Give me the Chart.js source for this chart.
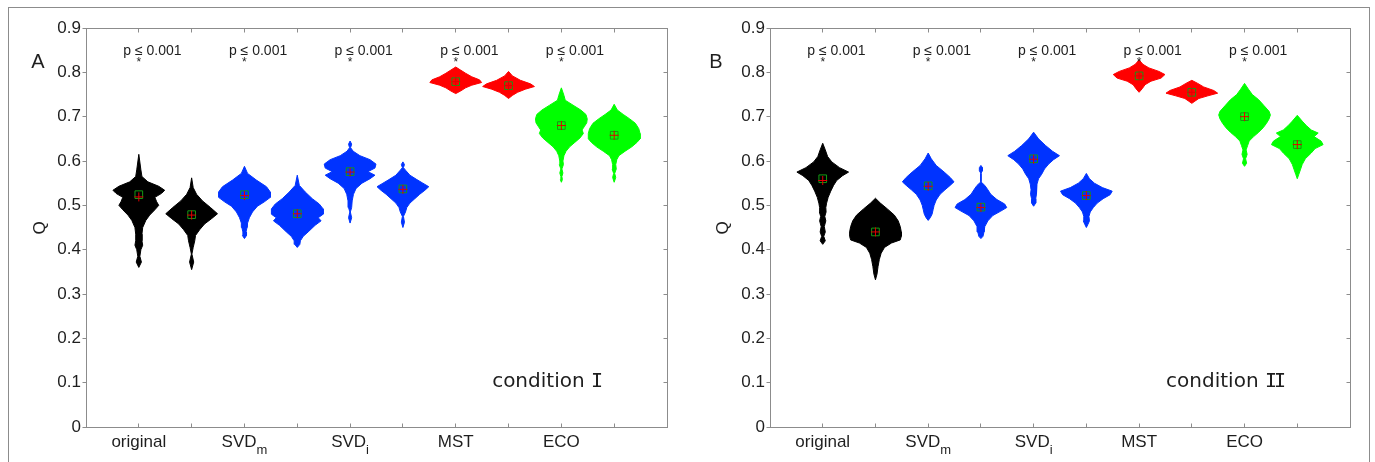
<!DOCTYPE html>
<html>
<head>
<meta charset="utf-8">
<script src="https://cdn.jsdelivr.net/npm/chart.js@4"></script>
<style>
  body { margin: 0; background: #fff; width: 1375px; height: 462px; overflow: hidden; position: relative; }
  #frame { position: absolute; left: 8px; top: 7px; width: 1360px; height: 480px; border: 1px solid #8c8c8c; }
  #chartA { position: absolute; left: 0; top: 0; }
  #chartB { position: absolute; left: 685px; top: 0; }
</style>
</head>
<body>
<div id="frame"></div>
<canvas id="chartA" width="685" height="462"></canvas>
<canvas id="chartB" width="690" height="462"></canvas>
<script>
// methods, two violins per method
const groups = ["original", "SVD", "SVD", "MST", "ECO"];
const groupSubs = ["", "m", "i", "", ""];
const pLabels = ["p \u2264 0.001", "p \u2264 0.001", "p \u2264 0.001", "p \u2264 0.001", "p \u2264 0.001"];
const yTicks = [0, 0.1, 0.2, 0.3, 0.4, 0.5, 0.6, 0.7, 0.8, 0.9];

// condition I
const meansA = [0.524, 0.479, 0.524, 0.481, 0.576, 0.537, 0.779, 0.770, 0.680, 0.658];
const mediansA = [0.519, 0.478, 0.522, 0.481, 0.575, 0.536, 0.779, 0.770, 0.680, 0.658];
// Q levels of each violin outline (top to bottom) and density there, % of peak
const levelsA = [
  [0.615, 0.58, 0.565, 0.553, 0.543, 0.534, 0.527, 0.518, 0.508, 0.500, 0.490, 0.478, 0.466, 0.45, 0.435, 0.42, 0.41, 0.40, 0.385, 0.372, 0.36],
  [0.562, 0.54, 0.525, 0.51, 0.495, 0.481, 0.47, 0.458, 0.445, 0.432, 0.42, 0.405, 0.39, 0.372, 0.355],
  [0.588, 0.572, 0.557, 0.542, 0.53, 0.518, 0.508, 0.498, 0.485, 0.472, 0.46, 0.45, 0.44, 0.432, 0.425],
  [0.568, 0.545, 0.53, 0.515, 0.503, 0.492, 0.48, 0.472, 0.465, 0.455, 0.44, 0.43, 0.42, 0.412, 0.405],
  [0.645, 0.638, 0.63, 0.622, 0.612, 0.603, 0.593, 0.584, 0.576, 0.568, 0.56, 0.55, 0.538, 0.525, 0.51, 0.495, 0.485, 0.472, 0.46],
  [0.598, 0.592, 0.585, 0.578, 0.568, 0.558, 0.55, 0.542, 0.534, 0.525, 0.515, 0.505, 0.495, 0.485, 0.475, 0.462, 0.45],
  [0.812, 0.805, 0.798, 0.79, 0.783, 0.777, 0.771, 0.765, 0.758, 0.752],
  [0.802, 0.792, 0.782, 0.774, 0.768, 0.762, 0.755, 0.748, 0.741],
  [0.765, 0.748, 0.737, 0.726, 0.715, 0.705, 0.695, 0.686, 0.677, 0.67, 0.662, 0.652, 0.642, 0.632, 0.622, 0.612, 0.6, 0.592, 0.582, 0.573, 0.565, 0.558, 0.552],
  [0.728, 0.715, 0.705, 0.695, 0.685, 0.673, 0.662, 0.65, 0.642, 0.632, 0.622, 0.612, 0.603, 0.592, 0.582, 0.572, 0.563, 0.552]
];
const densA = [
  [0, 8, 12, 35, 77, 100, 88, 62, 69, 77, 62, 42, 27, 15, 12, 12, 15, 8, 4, 10, 0],
  [0, 6, 19, 42, 73, 100, 77, 50, 31, 15, 12, 6, 1, 8, 0],
  [0, 12, 46, 85, 100, 100, 77, 50, 31, 19, 12, 10, 6, 8, 0],
  [0, 8, 31, 58, 85, 100, 100, 81, 92, 69, 42, 23, 12, 10, 0],
  [0, 6, 2, 12, 38, 77, 100, 96, 69, 96, 77, 46, 23, 13, 8, 6, 1, 6, 0],
  [0, 6, 2, 12, 27, 54, 77, 100, 85, 65, 46, 27, 15, 10, 2, 6, 0],
  [0, 19, 38, 62, 92, 100, 62, 38, 19, 0],
  [0, 15, 46, 85, 100, 65, 35, 15, 0],
  [0, 10, 15, 45, 75, 95, 100, 98, 88, 80, 85, 72, 52, 32, 18, 10, 6, 8, 2, 6, 2, 4, 0],
  [0, 12, 35, 60, 82, 95, 100, 100, 88, 68, 42, 18, 10, 6, 8, 2, 6, 0]
];

// condition II
const meansB = [0.560, 0.440, 0.544, 0.496, 0.605, 0.522, 0.792, 0.755, 0.700, 0.637];
const mediansB = [0.556, 0.440, 0.543, 0.495, 0.604, 0.522, 0.792, 0.755, 0.700, 0.637];
const levelsB = [
  [0.64, 0.625, 0.61, 0.598, 0.585, 0.575, 0.567, 0.556, 0.545, 0.532, 0.518, 0.505, 0.495, 0.485, 0.475, 0.465, 0.452, 0.44, 0.43, 0.42, 0.412],
  [0.516, 0.505, 0.492, 0.478, 0.465, 0.452, 0.44, 0.43, 0.422, 0.415, 0.405, 0.392, 0.378, 0.362, 0.345, 0.332],
  [0.618, 0.605, 0.59, 0.575, 0.563, 0.553, 0.545, 0.535, 0.525, 0.512, 0.5, 0.49, 0.48, 0.472, 0.466],
  [0.59, 0.585, 0.578, 0.572, 0.553, 0.545, 0.535, 0.525, 0.513, 0.503, 0.495, 0.487, 0.477, 0.465, 0.452, 0.44, 0.43, 0.425],
  [0.665, 0.65, 0.635, 0.622, 0.612, 0.603, 0.593, 0.582, 0.57, 0.56, 0.548, 0.535, 0.525, 0.515, 0.505, 0.498],
  [0.572, 0.56, 0.55, 0.54, 0.532, 0.524, 0.515, 0.505, 0.495, 0.485, 0.475, 0.465, 0.457, 0.45],
  [0.828, 0.818, 0.81, 0.802, 0.795, 0.787, 0.78, 0.772, 0.763, 0.755],
  [0.782, 0.775, 0.767, 0.759, 0.753, 0.747, 0.741, 0.735, 0.73],
  [0.775, 0.762, 0.75, 0.738, 0.725, 0.712, 0.704, 0.695, 0.685, 0.675, 0.665, 0.655, 0.645, 0.635, 0.625, 0.615, 0.605, 0.595, 0.588],
  [0.703, 0.69, 0.68, 0.67, 0.663, 0.655, 0.645, 0.637, 0.628, 0.618, 0.605, 0.592, 0.58, 0.57, 0.56]
];
const densB = [
  [0, 10, 19, 35, 65, 100, 77, 54, 42, 31, 21, 15, 12, 13, 8, 12, 6, 10, 4, 10, 0],
  [0, 19, 46, 73, 88, 96, 100, 100, 96, 62, 35, 22, 15, 10, 6, 0],
  [0, 12, 31, 62, 85, 100, 85, 65, 46, 31, 23, 19, 15, 8, 0],
  [0, 6, 6, 0, 0, 15, 27, 38, 62, 92, 100, 77, 46, 27, 15, 12, 8, 0],
  [0, 19, 46, 73, 100, 77, 58, 42, 31, 19, 13, 10, 12, 8, 8, 0],
  [0, 12, 31, 62, 100, 92, 65, 42, 27, 15, 10, 12, 6, 0],
  [0, 15, 38, 77, 100, 85, 46, 23, 12, 0],
  [0, 23, 46, 85, 100, 62, 27, 12, 0],
  [0, 15, 30, 55, 75, 95, 100, 95, 85, 72, 55, 35, 18, 12, 6, 10, 4, 8, 0],
  [0, 19, 35, 54, 81, 65, 92, 100, 69, 54, 31, 19, 12, 6, 0]
];

const violinColors = ["#000000", "#000000", "#0033ff", "#0033ff", "#0033ff", "#0033ff", "#ff0000", "#ff0000", "#00ff00", "#00ff00"];
const HALF_WIDTH = 0.49;   // half width of a violin at peak density, in x units
const AXIS_COLOR = "#8c8c8c";
const TEXT_COLOR = "#1e1e1e";
const FONT = '"Liberation Sans", Arial, sans-serif';

// closed outline: down the right side, back up the left side
function outline(pos, levels, dens) {
  const right = levels.map((q, j) => ({ x: pos + dens[j] / 100 * HALF_WIDTH, y: q }));
  const left = levels.map((q, j) => ({ x: pos - dens[j] / 100 * HALF_WIDTH, y: q })).reverse();
  return right.concat(left);
}

const decor = {
  id: "decor",
  afterDraw(chart, args, opts) {
    const { ctx, chartArea: a, scales: { x, y } } = chart;
    ctx.save();
    ctx.strokeStyle = AXIS_COLOR;
    ctx.lineWidth = 1;
    const L = Math.floor(a.left) + 0.5, R = Math.floor(a.right) + 0.5;
    const T = Math.floor(a.top) + 0.5, B = Math.floor(a.bottom) + 0.5;
    ctx.strokeRect(L, T, R - L, B - T);

    ctx.beginPath();
    for (let i = 1; i <= 10; i++) {
      const px = Math.floor(x.getPixelForValue(i)) + 0.5;
      ctx.moveTo(px, B); ctx.lineTo(px, B - 4);
      ctx.moveTo(px, T); ctx.lineTo(px, T + 4);
    }
    yTicks.forEach(v => {
      const py = Math.floor(y.getPixelForValue(v)) + 0.5;
      ctx.moveTo(R, py); ctx.lineTo(R - 4, py);
      ctx.moveTo(L, py); ctx.lineTo(L - 4, py);
    });
    ctx.stroke();

    ctx.fillStyle = TEXT_COLOR;
    ctx.textBaseline = "middle";
    groups.forEach((name, k) => {
      const px = x.getPixelForValue(2 * k + 1);
      ctx.font = "17px " + FONT;
      const w1 = ctx.measureText(name).width;
      ctx.font = "13px " + FONT;
      const w2 = groupSubs[k] ? ctx.measureText(groupSubs[k]).width : 0;
      const x0 = px - (w1 + w2) / 2;
      ctx.textAlign = "left";
      ctx.font = "17px " + FONT;
      ctx.fillText(name, x0, 442);
      if (groupSubs[k]) {
        ctx.font = "13px " + FONT;
        ctx.fillText(groupSubs[k], x0 + w1, 450);
      }

      // significance label, the relation sign sits over the star
      ctx.font = "14px " + FONT;
      const lead = ctx.measureText("p ").width + ctx.measureText("\u2264").width / 2;
      ctx.fillText(pLabels[k], px - lead, y.getPixelForValue(0.848));
      ctx.font = "12px " + FONT;
      ctx.textAlign = "center";
      ctx.textBaseline = "alphabetic";
      ctx.fillText("*", px, y.getPixelForValue(0.829) + 7);
      ctx.textBaseline = "middle";
    });

    ctx.textAlign = "center";
    ctx.font = "20px " + FONT;
    ctx.fillText(opts.letter, opts.letterX, 62);

    ctx.save();
    ctx.translate(opts.qX, 228);
    ctx.rotate(-Math.PI / 2);
    ctx.font = "17px " + FONT;
    ctx.fillText("Q", 0, 0);
    ctx.restore();

    // "condition" in sans, the roman numeral with serifs
    const cut = opts.condition.lastIndexOf(" ") + 1;
    const word = opts.condition.slice(0, cut), num = opts.condition.slice(cut);
    const sans = '20px "DejaVu Sans", sans-serif', mono = '20px "DejaVu Sans Mono", monospace';
    ctx.font = mono;
    ctx.letterSpacing = "-3px";
    const wn = ctx.measureText(num).width;
    ctx.textAlign = "right";
    ctx.fillText(num, a.right - 67, 382);
    ctx.letterSpacing = "0px";
    ctx.font = sans;
    ctx.fillText(word, a.right - 67 - wn, 382);
    ctx.restore();
  }
};

function makeChart(id, means, medians, levels, dens, panel) {
  const violins = levels.map((lv, i) => ({
    type: "line",
    data: outline(i + 1, lv, dens[i]),
    borderColor: violinColors[i],
    backgroundColor: violinColors[i],
    borderWidth: 1,
    pointRadius: 0,
    tension: 0,
    fill: "shape",
    order: 1
  }));
  const markers = [
    {
      type: "scatter",
      data: medians.map((m, i) => ({ x: i + 1, y: m })),
      pointStyle: "cross",
      pointRadius: 4.5,
      borderColor: "#e00000",
      borderWidth: 1,
      order: 0
    },
    {
      type: "scatter",
      data: means.map((m, i) => ({ x: i + 1, y: m })),
      pointStyle: "rect",
      pointRadius: 5.4,
      borderColor: "#139a13",
      backgroundColor: "rgba(0,0,0,0)",
      borderWidth: 1,
      order: 0
    }
  ];

  return new Chart(document.getElementById(id), {
    type: "scatter",
    data: { datasets: markers.concat(violins) },
    options: {
      responsive: false,
      animation: false,
      events: [],
      layout: { padding: { top: 28, right: panel.padRight, left: 0, bottom: 0 } },
      plugins: { legend: { display: false }, tooltip: { enabled: false }, decor: panel },
      scales: {
        x: {
          type: "linear", min: 0, max: 11,
          grid: { display: false, drawTicks: false },
          border: { display: false },
          ticks: { display: false },
          afterFit: s => { s.height = 35; }
        },
        y: {
          type: "linear", min: 0, max: 0.9,
          grid: { display: false, drawTicks: false },
          border: { display: false },
          afterBuildTicks: s => { s.ticks = yTicks.map(v => ({ value: v })); },
          ticks: { padding: 5, color: TEXT_COLOR, font: { size: 17, family: FONT } },
          afterFit: s => { s.width = panel.yWidth; }
        }
      }
    },
    plugins: [decor]
  });
}

makeChart("chartA", meansA, mediansA, levelsA, densA,
  { letter: "A", letterX: 38, qX: 40, condition: "condition I", padRight: 18, yWidth: 86 });
makeChart("chartB", meansB, mediansB, levelsB, densB,
  { letter: "B", letterX: 31, qX: 38, condition: "condition II", padRight: 25, yWidth: 85 });
</script>
</body>
</html>
